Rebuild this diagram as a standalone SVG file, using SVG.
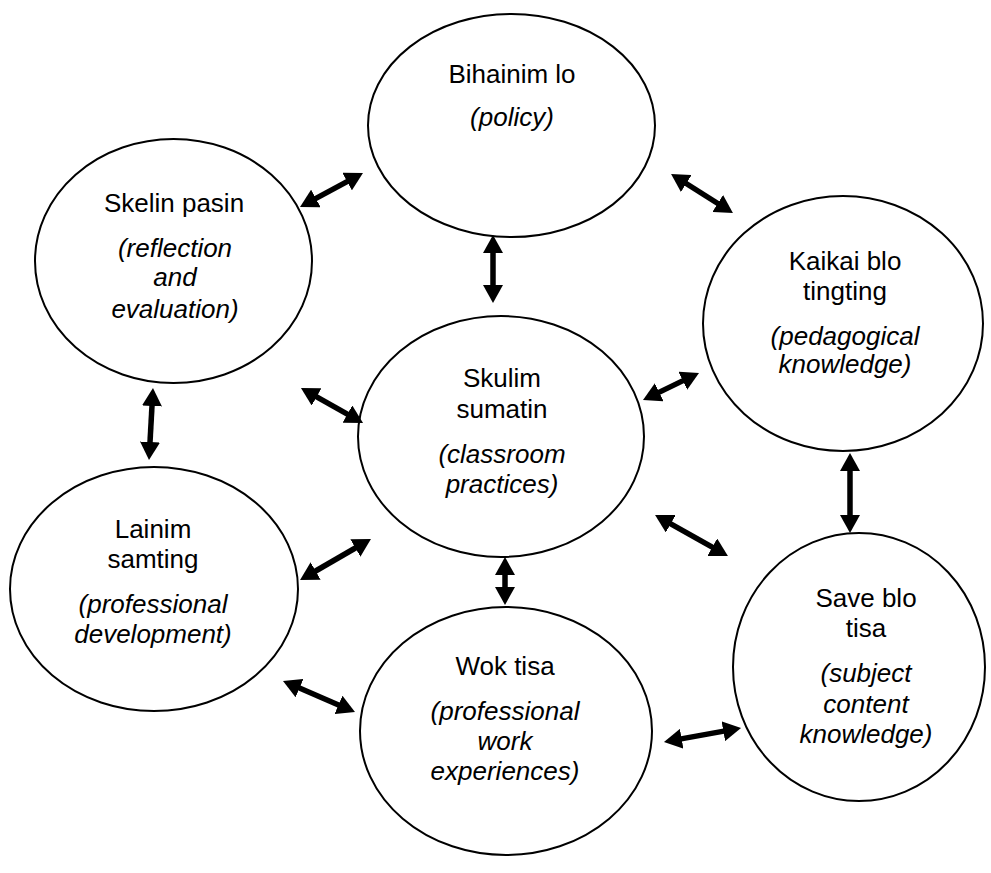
<svg xmlns="http://www.w3.org/2000/svg" width="991" height="873" viewBox="0 0 991 873">
<style>
.n{fill:#fff;stroke:#000;stroke-width:2}
text{font-family:"Liberation Sans",Arial,sans-serif;font-size:26px;fill:#000;text-anchor:middle}
.i{font-style:italic}
.c line{stroke:#000;stroke-width:5.5;marker-start:url(#ah);marker-end:url(#ah)}
</style>
<defs>
<marker id="ah" markerUnits="userSpaceOnUse" markerWidth="18" markerHeight="20" refX="2" refY="10" orient="auto-start-reverse" viewBox="0 0 18 20">
<path d="M0,0 L18,10 L0,20 z" fill="#000"/>
</marker>
</defs>
<rect width="991" height="873" fill="#fff"/>
<g id="bihainim">
<ellipse class="n" cx="511.5" cy="125.5" rx="143.5" ry="111.5"/>
<text x="512" y="83">Bihainim lo</text>
<text class="i" x="512" y="126">(policy)</text>
</g>
<g id="skelin">
<ellipse class="n" cx="173.5" cy="261" rx="138.5" ry="122"/>
<text x="174" y="212">Skelin pasin</text>
<text class="i" x="175" y="257">(reflection</text>
<text class="i" x="175" y="286">and</text>
<text class="i" x="175" y="318">evaluation)</text>
</g>
<g id="kaikai">
<ellipse class="n" cx="843" cy="323.5" rx="140" ry="127.5"/>
<text x="845" y="270">Kaikai blo</text>
<text x="845" y="300">tingting</text>
<text class="i" x="845" y="345">(pedagogical</text>
<text class="i" x="845" y="373">knowledge)</text>
</g>
<g id="skulim">
<ellipse class="n" cx="501" cy="436.5" rx="143" ry="120.5"/>
<text x="502" y="387">Skulim</text>
<text x="502" y="418">sumatin</text>
<text class="i" x="502" y="463">(classroom</text>
<text class="i" x="502" y="493">practices)</text>
</g>
<g id="lainim">
<ellipse class="n" cx="154" cy="589" rx="144" ry="122"/>
<text x="153" y="538">Lainim</text>
<text x="153" y="568">samting</text>
<text class="i" x="153" y="613">(professional</text>
<text class="i" x="153" y="643">development)</text>
</g>
<g id="save">
<ellipse class="n" cx="859" cy="667" rx="126" ry="134"/>
<text x="866" y="607">Save blo</text>
<text x="866" y="637">tisa</text>
<text class="i" x="866" y="682">(subject</text>
<text class="i" x="866" y="713">content</text>
<text class="i" x="866" y="743">knowledge)</text>
</g>
<g id="wok">
<ellipse class="n" cx="506" cy="731" rx="146" ry="124"/>
<text x="505" y="675">Wok tisa</text>
<text class="i" x="505" y="720">(professional</text>
<text class="i" x="505" y="750">work</text>
<text class="i" x="505" y="780">experiences)</text>
</g>
<g id="connectors" class="c">
<line x1="314.1" y1="199.4" x2="348.9" y2="180.6"/>
<line x1="684.6" y1="182.5" x2="719.4" y2="204.5"/>
<line x1="493" y1="251" x2="493" y2="287"/>
<line x1="314.9" y1="395.9" x2="349.1" y2="415.1"/>
<line x1="657.4" y1="393.1" x2="684.6" y2="379.9"/>
<line x1="152.1" y1="404" x2="149.9" y2="444"/>
<line x1="850" y1="469" x2="850" y2="517"/>
<line x1="669" y1="522.8" x2="714" y2="548.2"/>
<line x1="357.1" y1="547" x2="313.9" y2="572"/>
<line x1="505" y1="573" x2="505" y2="589"/>
<line x1="297.7" y1="687.3" x2="340.3" y2="705.7"/>
<line x1="679.7" y1="739.1" x2="725.3" y2="730.9"/>
</g>
</svg>
